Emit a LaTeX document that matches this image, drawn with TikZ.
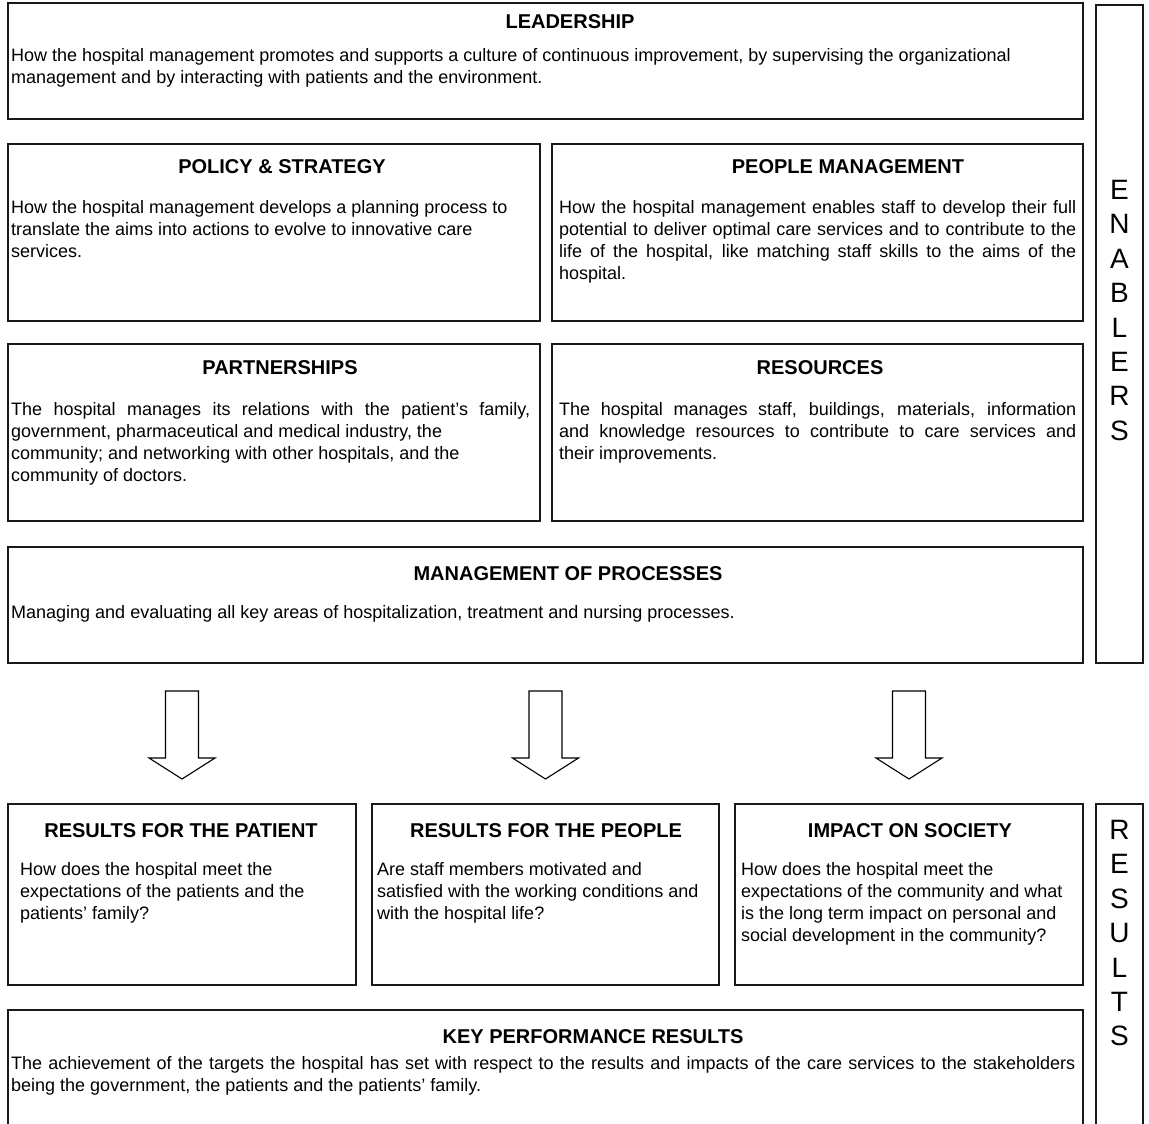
\documentclass[tikz,border=0pt]{standalone}
\usepackage{fontspec}
\setmainfont{Liberation Sans}
\usetikzlibrary{calc}
\hyphenpenalty=10000
\exhyphenpenalty=10000
\tolerance=10000
\begin{document}
\begin{tikzpicture}[x=1pt,y=-1pt,
  frame/.style={draw=black!90, line width=1.4pt, inner sep=0pt, outer sep=0pt, anchor=north west},
  head/.style={anchor=base, inner sep=0pt, font=\fontsize{20}{24}\selectfont\bfseries},
  body/.style={anchor=base west, inner sep=0pt, align=justify, font=\fontsize{18}{22}\selectfont},
  side/.style={anchor=north, inner sep=0pt, align=center, font=\fontsize{28}{34.4}\selectfont},
  blockarrow/.style={draw=black, line width=1.1pt, fill=white, line join=miter}]

\useasboundingbox (0,0) rectangle (1149,1124);
\fill[white] (0,0) rectangle (1149,1124);
\clip (0,0) rectangle (1149,1124);

% ---------- enablers ----------
\node[frame, minimum width=1075pt, minimum height=116pt] (lead) at (8,3) {};
\node[head] (leadT) at (570,29) {LEADERSHIP};
\node[body, text width=1067pt] (leadB) at (11,62)
  {How the hospital management promotes and supports a culture of continuous improvement, by supervising the organizational\\
   management and by interacting with patients and the environment.};

\node[frame, minimum width=532pt, minimum height=177pt] (pol) at (8,144) {};
\node[head] (polT) at (282,173) {POLICY \& STRATEGY};
\node[body, text width=525pt] (polB) at (11,213)
  {How the hospital management develops a planning process to\\
   translate the aims into actions to evolve to innovative care\\
   services.};

\node[frame, minimum width=531pt, minimum height=177pt] (ppl) at (552,144) {};
\node[head] (pplT) at (848,173) {PEOPLE MANAGEMENT};
\node[body, text width=517pt] (pplB) at (559,213)
  {How the hospital management enables staff to develop their full\linebreak
   potential to deliver optimal care services and to contribute to the\linebreak
   life of the hospital, like matching staff skills to the aims of the\linebreak
   hospital.};

\node[frame, minimum width=532pt, minimum height=177pt] (par) at (8,344) {};
\node[head] (parT) at (280,374) {PARTNERSHIPS};
\node[body, text width=519pt] (parB) at (11,415)
  {The hospital manages its relations with the patient’s family,\linebreak
   government, pharmaceutical and medical industry, the\\
   community; and networking with other hospitals, and the\\
   community of doctors.};

\node[frame, minimum width=531pt, minimum height=177pt] (res) at (552,344) {};
\node[head] (resT) at (820,374) {RESOURCES};
\node[body, text width=517pt] (resB) at (559,415)
  {The hospital manages staff, buildings, materials, information\linebreak
   and knowledge resources to contribute to care services and\linebreak
   their improvements.};

\node[frame, minimum width=1075pt, minimum height=116pt] (mgmt) at (8,547) {};
\node[head] (mgmtT) at (568,580) {MANAGEMENT OF PROCESSES};
\node[body, text width=1067pt] (mgmtB) at (11,618)
  {Managing and evaluating all key areas of hospitalization, treatment and nursing processes.};

\node[frame, minimum width=47pt, minimum height=658pt] (enab) at (1096,5) {};
\node[side] (enabL) at (1119.5,180) {E\\N\\A\\B\\L\\E\\R\\S};

% ---------- results ----------
\node[frame, minimum width=348pt, minimum height=181pt] (pat) at (8,804) {};
\node[head] (patT) at (181,837) {RESULTS FOR THE PATIENT};
\node[body, text width=330pt] (patB) at (20,875)
  {How does the hospital meet the\\
   expectations of the patients and the\\
   patients’ family?};

\node[frame, minimum width=347pt, minimum height=181pt] (peo) at (372,804) {};
\node[head] (peoT) at (546,837) {RESULTS FOR THE PEOPLE};
\node[body, text width=338pt] (peoB) at (377,875)
  {Are staff members motivated and\\
   satisfied with the working conditions and\\
   with the hospital life?};

\node[frame, minimum width=348pt, minimum height=181pt] (soc) at (735,804) {};
\node[head] (socT) at (910,837) {IMPACT ON SOCIETY};
\node[body, text width=338pt] (socB) at (741,875)
  {How does the hospital meet the\\
   expectations of the community and what\\
   is the long term impact on personal and\\
   social development in the community?};

\node[frame, minimum width=1075pt, minimum height=140pt] (kpr) at (8,1010) {};
\node[head] (kprT) at (593,1043) {KEY PERFORMANCE RESULTS};
\node[body, text width=1064pt] (kprB) at (11,1069)
  {The achievement of the targets the hospital has set with respect to the results and impacts of the care services to the stakeholders\linebreak
   being the government, the patients and the patients’ family.};

\node[frame, minimum width=47pt, minimum height=340pt] (resu) at (1096,804) {};
\node[side] (resuL) at (1119.5,820) {R\\E\\S\\U\\L\\T\\S};

% ---------- block arrows from the processes box to each result ----------
\foreach \b in {pat,peo,soc}{
  \draw[blockarrow] ($(\b.north)+(0,-25)$) -- ++(33,-21) -- ++(-16.5,0)
    -- ++(0,-67) -- ++(-33,0) -- ++(0,67) -- ++(-16.5,0) -- cycle;
}
\end{tikzpicture}
\end{document}
